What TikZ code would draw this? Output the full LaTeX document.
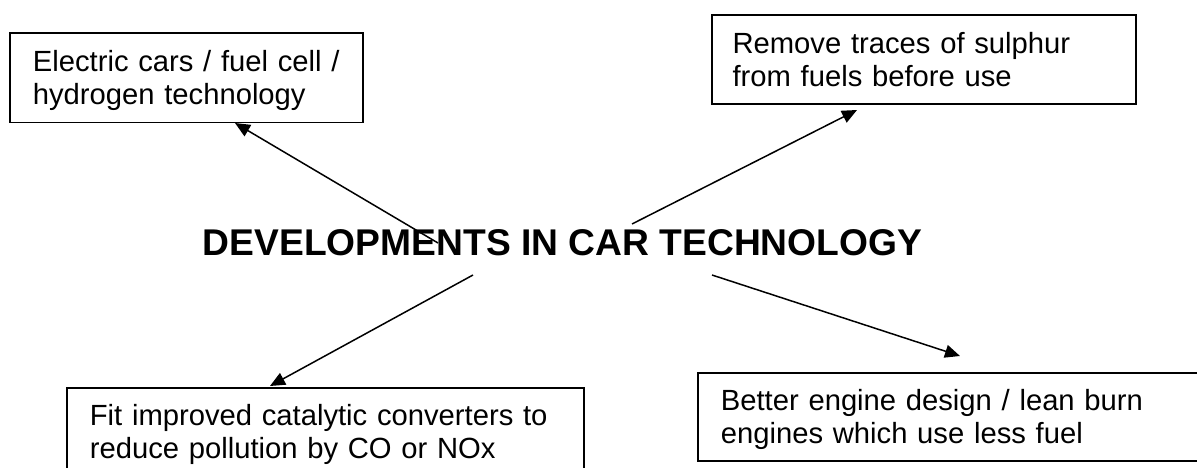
\documentclass[tikz,border=0pt]{standalone}
\usepackage{fontspec}
\setmainfont{Liberation Sans}
\usetikzlibrary{arrows.meta}
\tikzset{
  box/.style={draw=black, line width=1.8pt, anchor=north west, align=left,
    inner ysep=0pt, text height=21pt, text depth=33pt, font=\fontsize{29.2}{33}\selectfont},
  arr/.style={line width=1.5pt, -{Triangle[length=15pt,width=13pt]}},
  heading/.style={font=\fontsize{37.2}{40}\selectfont\bfseries, inner sep=0pt, anchor=base}
}
\begin{document}
\begin{tikzpicture}[x=1pt,y=-1pt]
\useasboundingbox (0,0) rectangle (1197,468);
\clip (0,0) rectangle (1197,468);
\fill[white] (0,0) rectangle (1197,468);
\node[box, minimum width=352.7pt, minimum height=89.7pt, text width=307.3pt, inner xsep=22.7pt] (b1) at (9.3,32)
  {Electric cars / fuel cell /\\hydrogen technology};
\node[box, minimum width=424pt, minimum height=89pt, text width=382.6pt, inner xsep=20.7pt] (b2) at (711,14)
  {Remove traces of sulphur\\from fuels before use};
\node[box, minimum width=516.7pt, minimum height=88pt, text width=470.7pt, inner xsep=23pt] (b3) at (66,386.7)
  {Fit improved catalytic converters to\\reduce pollution by CO or NOx};
\node[box, minimum width=530pt, minimum height=88.3pt, text width=483.4pt, inner xsep=23.3pt] (b4) at (696.7,371.7)
  {Better engine design / lean burn\\engines which use less fuel};
\node[heading] (t) at (562.5,255) {DEVELOPMENTS IN CAR TECHNOLOGY};
\coordinate (s1) at (438,243);
\coordinate (e1) at (235,123);
\coordinate (s2) at (632,224);
\coordinate (e2) at (857,110);
\coordinate (s3) at (473,275);
\coordinate (e3) at (270,386);
\coordinate (s4) at (712,275);
\coordinate (e4) at (960,356);
\draw[arr] (s1) -- (e1);
\draw[arr] (s2) -- (e2);
\draw[arr] (s3) -- (e3);
\draw[arr] (s4) -- (e4);
\end{tikzpicture}
\end{document}
